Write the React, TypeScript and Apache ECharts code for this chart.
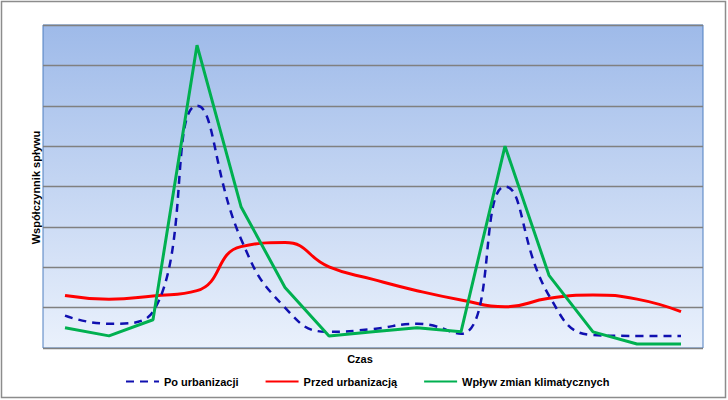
import React, { useEffect, useRef } from "react";
import * as echarts from "echarts";

const categories = ["1","2","3","4","5","6","7","8","9","10","11","12","13","14","15"];
const poUrbanizacji = [0.8, 0.6, 0.9, 6.0, 2.7, 1.0, 0.4, 0.47, 0.6, 0.35, 4.0, 1.3, 0.32, 0.3, 0.3];
const przedUrbanizacja = [1.3, 1.21, 1.29, 1.42, 2.51, 2.61, 2.01, 1.7, 1.42, 1.19, 1.02, 1.23, 1.31, 1.21, 0.9];
const wplywZmian = [0.5, 0.3, 0.7, 7.5, 3.5, 1.5, 0.3, 0.4, 0.5, 0.4, 5.0, 1.8, 0.4, 0.1, 0.1];
const seriesNames = ["Po urbanizacji", "Przed urbanizacją", "Wpływ zmian klimatycznych"];

export default function App() {
  const ref = useRef<HTMLDivElement>(null);
  useEffect(() => {
    if (!ref.current) return;
    const chart = echarts.init(ref.current, null, { renderer: "svg" });
    const font = "'Liberation Sans', Arial, sans-serif";
    chart.setOption({
      animation: false,
      backgroundColor: "#ffffff",
      grid: {
        left: 43,
        top: 25,
        right: 25,
        bottom: 52,
        show: true,
        borderColor: "#4f7fc0",
        borderWidth: 1,
        backgroundColor: new echarts.graphic.LinearGradient(0, 0, 0, 1, [
          { offset: 0, color: "#9ebae9" },
          { offset: 1, color: "#eaf1fc" },
        ]),
      },
      legend: {
        left: 120,
        top: 371,
        itemWidth: 33,
        itemHeight: 12,
        itemGap: 26,
        data: seriesNames,
        itemStyle: { opacity: 0 },
        textStyle: { fontFamily: font, fontSize: 11, fontWeight: "bold", color: "#000" },
      },
      xAxis: {
        type: "category",
        data: categories,
        boundaryGap: true,
        axisLine: { show: false },
        axisTick: { show: false },
        axisLabel: { show: false },
      },
      yAxis: {
        type: "value",
        min: 0,
        max: 8,
        interval: 1,
        axisLine: { show: false },
        axisTick: { show: false },
        axisLabel: { show: false },
        splitLine: { lineStyle: { color: "#808080", width: 1.3 } },
      },
      graphic: [
        {
          type: "rect",
          shape: { x: 1.5, y: 1.5, width: 724, height: 396 },
          style: { fill: "none", stroke: "#8c8c8c", lineWidth: 1.5 },
          silent: true,
        },
        {
          type: "text",
          x: 360,
          y: 359,
          style: {
            text: "Czas",
            fontFamily: font,
            fontSize: 11,
            fontWeight: "bold",
            fill: "#000",
            align: "center",
            verticalAlign: "middle",
          },
        },
        {
          type: "text",
          x: 35.5,
          y: 187.5,
          rotation: Math.PI / 2,
          style: {
            text: "Współczynnik spływu",
            fontFamily: font,
            fontSize: 11,
            fontWeight: "bold",
            fill: "#000",
            align: "center",
            verticalAlign: "middle",
          },
        },
      ],
      series: [
        {
          name: seriesNames[0],
          type: "line",
          data: poUrbanizacji,
          smooth: 0.5,
          symbol: "none",
          lineStyle: { color: "#1010b0", width: 2.5, type: [8, 6] },
          itemStyle: { color: "#1010b0" },
          z: 3,
        },
        {
          name: seriesNames[1],
          type: "line",
          data: przedUrbanizacja,
          smooth: 0.5,
          symbol: "none",
          lineStyle: { color: "#ff0000", width: 3 },
          itemStyle: { color: "#ff0000" },
          z: 2,
        },
        {
          name: seriesNames[2],
          type: "line",
          data: wplywZmian,
          smooth: false,
          symbol: "none",
          lineStyle: { color: "#00b050", width: 3 },
          itemStyle: { color: "#00b050" },
          z: 4,
        },
      ],
    });
    return () => chart.dispose();
  }, []);
  return (
    <div
      ref={ref}
      style={{ position: "fixed", left: 0, top: 0, width: 728, height: 400 }}
    />
  );
}
